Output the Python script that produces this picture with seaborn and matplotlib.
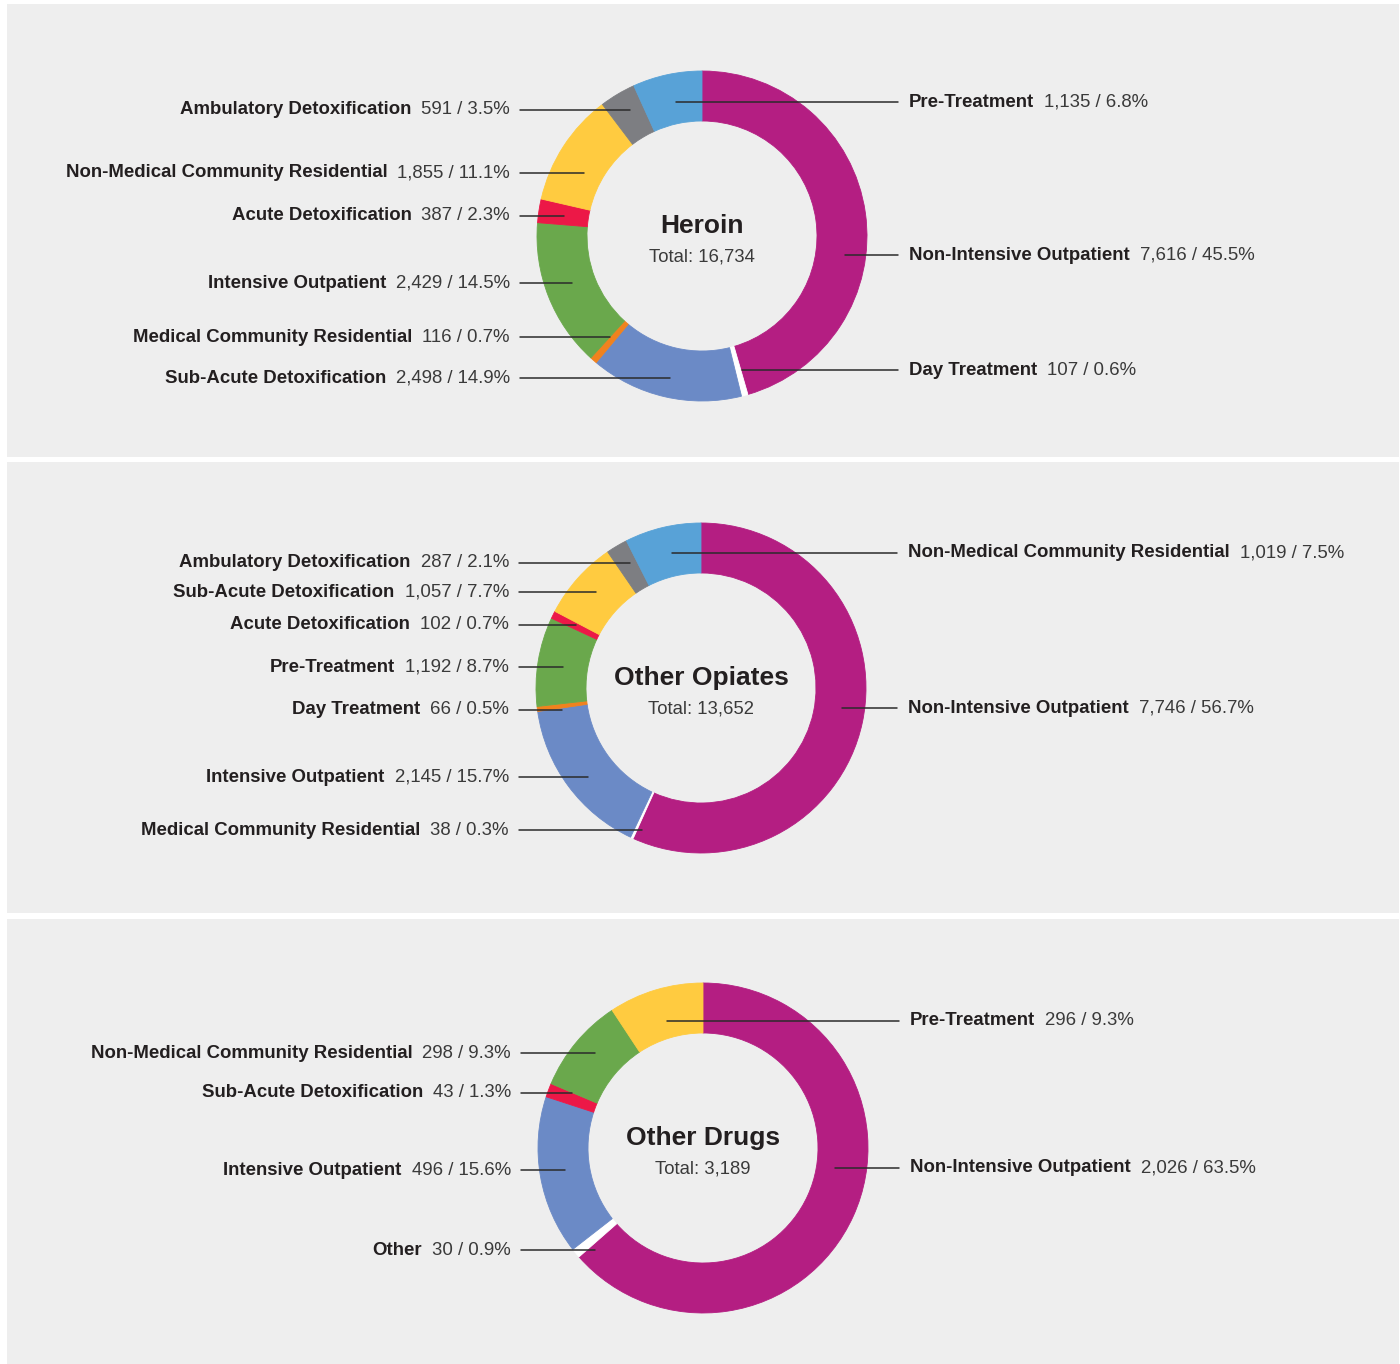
import matplotlib
matplotlib.use("Agg")
import matplotlib.pyplot as plt
import numpy as np
import seaborn as sns

sns.set_theme(style="white")
plt.rcParams["font.family"] = ["Liberation Sans", "DejaVu Sans"]

# --- data (clockwise from 12 o'clock) ---
HEROIN_LABELS = ["Non-Intensive Outpatient", "Day Treatment", "Sub-Acute Detoxification",
                 "Medical Community Residential", "Intensive Outpatient", "Acute Detoxification",
                 "Non-Medical Community Residential", "Ambulatory Detoxification", "Pre-Treatment"]
HEROIN_COUNTS = [7616, 107, 2498, 116, 2429, 387, 1855, 591, 1135]

OPIATES_LABELS = ["Non-Intensive Outpatient", "Medical Community Residential", "Intensive Outpatient",
                  "Day Treatment", "Pre-Treatment", "Acute Detoxification",
                  "Sub-Acute Detoxification", "Ambulatory Detoxification",
                  "Non-Medical Community Residential"]
OPIATES_COUNTS = [7746, 38, 2145, 66, 1192, 102, 1057, 287, 1019]

OTHER_LABELS = ["Non-Intensive Outpatient", "Other", "Intensive Outpatient",
                "Sub-Acute Detoxification", "Non-Medical Community Residential", "Pre-Treatment"]
OTHER_COUNTS = [2026, 30, 496, 43, 298, 296]

TITLES = ["Heroin", "Other Opiates", "Other Drugs"]

# --- styles ---
MAGENTA, WHITE, BLUE, ORANGE = "#b41e82", "#ffffff", "#6b8ac6", "#f0821e"
GREEN, RED, YELLOW, GREY, LBLUE = "#6aa84c", "#ec1847", "#ffcb40", "#7d7e82", "#58a2d7"
HEROIN_COLORS = [MAGENTA, WHITE, BLUE, ORANGE, GREEN, RED, YELLOW, GREY, LBLUE]
OPIATES_COLORS = [MAGENTA, WHITE, BLUE, ORANGE, GREEN, RED, YELLOW, GREY, LBLUE]
OTHER_COLORS = [MAGENTA, WHITE, BLUE, RED, GREEN, YELLOW]
BG = "#eeeeee"

# label nudges in pixels (positive = down), layout only
HEROIN_NUDGE = [39, -1, 6, -4, -4, 1, 13, -6, 3]
OPIATES_NUDGE = [-9, 15, 6, 4, 2, -1, -3, -5, 1]
OTHER_NUDGE = [-38, 13, -2, -6, -5, 7]

W, H = 1400, 1364
R_OUT, RING = 165, 50
R_MID = R_OUT - RING / 2
FS = 13.4

fig = plt.figure(figsize=(W / 100, H / 100), dpi=100)
fig.patch.set_facecolor("white")


def draw_panel(title, labels, counts, colors, nudges, y0, y1, cx, cy):
    x0, x1 = 7, 1399
    ax = fig.add_axes([x0 / W, 1 - y1 / H, (x1 - x0) / W, (y1 - y0) / H])
    wedges, _ = ax.pie(counts, colors=colors, radius=R_OUT, startangle=90,
                       counterclock=False, frame=True,
                       wedgeprops=dict(width=RING, linewidth=0.6))
    for w in wedges:
        w.set_edgecolor(w.get_facecolor())
    ax.set_xlim(x0 - cx, x1 - cx)
    ax.set_ylim(cy - y1, cy - y0)
    ax.set_aspect("auto")
    ax.set_facecolor(BG)
    ax.set_xticks([])
    ax.set_yticks([])
    for s in ax.spines.values():
        s.set_visible(False)

    total = sum(counts)
    ax.text(0, 10, title, ha="center", va="center", fontsize=19,
            fontweight="bold", color="#231f20")
    ax.text(0, -21, f"Total: {total:,}", ha="center", va="center",
            fontsize=13.3, color="#3a3a3a")

    for w, name, n, nudge in zip(wedges, labels, counts, nudges):
        mid = (w.theta1 + w.theta2) / 2
        ang = np.deg2rad(mid)
        px, py = R_MID * np.cos(ang), R_MID * np.sin(ang)
        ly = py - nudge
        # clockwise angle from 12 o'clock decides the side
        cw = (90 - mid) % 360
        val = f"{n:,} / {n / total * 100:.1f}%"
        if cw < 180 or cw > 335:
            ax.plot([px + 4, 196], [ly, ly], color="#2b2b2b", lw=1.1, zorder=3)
            t = ax.text(207, ly, name, ha="left", va="center", fontsize=FS,
                        fontweight="bold", color="#231f20")
            ax.annotate(val, xy=(1, 0.5), xycoords=t, xytext=(10, 0),
                        textcoords="offset pixels", ha="left", va="center",
                        fontsize=FS, color="#3a3a3a")
        else:
            ax.plot([-182, px], [ly, ly], color="#2b2b2b", lw=1.1, zorder=3)
            t = ax.text(-192, ly, val, ha="right", va="center", fontsize=FS,
                        color="#3a3a3a")
            ax.annotate(name, xy=(0, 0.5), xycoords=t, xytext=(-10, 0),
                        textcoords="offset pixels", ha="right", va="center",
                        fontsize=FS, fontweight="bold", color="#231f20")


draw_panel(TITLES[0], HEROIN_LABELS, HEROIN_COUNTS, HEROIN_COLORS, HEROIN_NUDGE, 4, 457, 702, 236)
draw_panel(TITLES[1], OPIATES_LABELS, OPIATES_COUNTS, OPIATES_COLORS, OPIATES_NUDGE, 462, 913, 701, 688)
draw_panel(TITLES[2], OTHER_LABELS, OTHER_COUNTS, OTHER_COLORS, OTHER_NUDGE, 919, 1364, 703, 1148)

fig.savefig("out.png", dpi=100, facecolor=fig.get_facecolor())
